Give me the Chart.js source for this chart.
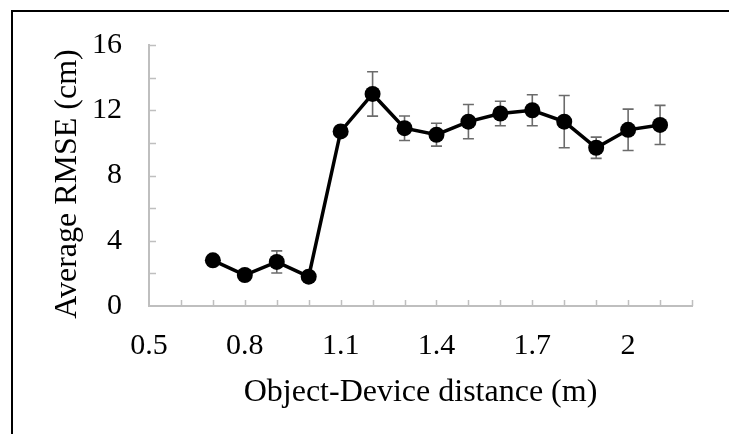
<!DOCTYPE html>
<html><head><meta charset="utf-8">
<script src="https://cdn.jsdelivr.net/npm/chart.js@4.4.0/dist/chart.umd.min.js"></script>
<style>html,body{margin:0;padding:0;background:#fff}#wrap{width:729px;height:434px;position:relative}</style>
</head><body><div id="wrap"><canvas id="c" width="729" height="434"></canvas></div>
<script>
const distances = [0.7, 0.8, 0.9, 1.0, 1.1, 1.2, 1.3, 1.4, 1.5, 1.6, 1.7, 1.8, 1.9, 2.0, 2.1];
const rmse = [2.8, 1.9, 2.7, 1.8, 10.7, 13.0, 10.9, 10.5, 11.3, 11.8, 12.0, 11.3, 9.7, 10.8, 11.1];
const rmseErr = [0.2, 0.2, 0.68, 0.2, 0.3, 1.36, 0.75, 0.7, 1.05, 0.75, 0.95, 1.6, 0.65, 1.27, 1.2];
const xTickValues = [0.5, 0.8, 1.1, 1.4, 1.7, 2.0];
const xTickLabels = ['0.5', '0.8', '1.1', '1.4', '1.7', '2'];
const yTickValues = [0, 4, 8, 12, 16];
const yTickLabels = ['0', '4', '8', '12', '16'];
const xTitle = 'Object-Device distance (m)';
const yTitle = 'Average RMSE (cm)';

const FONT = "'Liberation Serif', 'Times New Roman', serif";
const AXIS = '#bfbfbf';

function labelFor(vals, labs, v) {
  const i = vals.findIndex(t => Math.abs(t - v) < 1e-6);
  return i >= 0 ? labs[i] : '';
}

const errorBars = {
  id: 'errorBars',
  beforeDatasetsDraw(chart) {
    const {ctx, scales: {x, y}} = chart;
    ctx.save();
    ctx.strokeStyle = '#6b6b6b';
    ctx.lineWidth = 1.6;
    distances.forEach((d, i) => {
      const px = x.getPixelForValue(d);
      const y1 = y.getPixelForValue(rmse[i] + rmseErr[i]);
      const y2 = y.getPixelForValue(rmse[i] - rmseErr[i]);
      ctx.beginPath();
      ctx.moveTo(px, y1); ctx.lineTo(px, y2);
      ctx.moveTo(px - 5.5, y1); ctx.lineTo(px + 5.5, y1);
      ctx.moveTo(px - 5.5, y2); ctx.lineTo(px + 5.5, y2);
      ctx.stroke();
    });
    ctx.restore();
  }
};

const decor = {
  id: 'decor',
  beforeDatasetsDraw(chart) {
    const {ctx, scales: {x, y}, chartArea: a} = chart;
    ctx.save();
    ctx.strokeStyle = AXIS;
    ctx.lineWidth = 1.5;
    ctx.beginPath();
    x.ticks.forEach(t => {
      const px = Math.round(x.getPixelForValue(t.value)) + 0.5;
      if (Math.abs(t.value - x.min) < 1e-6) return;
      ctx.moveTo(px, a.bottom); ctx.lineTo(px, a.bottom - 6);
    });
    y.ticks.forEach(t => {
      const py = Math.round(y.getPixelForValue(t.value)) + 0.5;
      if (Math.abs(t.value - y.min) < 1e-6) return;
      ctx.moveTo(a.left, py); ctx.lineTo(a.left + 7, py);
    });
    ctx.stroke();
    ctx.restore();
  },
  afterDraw(chart) {
    const {ctx, chartArea: a} = chart;
    ctx.save();
    ctx.fillStyle = '#000';
    ctx.font = '32px ' + FONT;
    ctx.textAlign = 'center';
    ctx.textBaseline = 'alphabetic';
    ctx.fillText(xTitle, (a.left + a.right) / 2, 401);
    ctx.translate(76, 184);
    ctx.rotate(-Math.PI / 2);
    ctx.fillText(yTitle, 0, 0);
    ctx.restore();
    ctx.save();
    ctx.strokeStyle = '#000';
    ctx.lineWidth = 2;
    ctx.beginPath();
    ctx.moveTo(12, 434); ctx.lineTo(12, 11); ctx.lineTo(729, 11);
    ctx.stroke();
    ctx.restore();
  }
};

new Chart(document.getElementById('c'), {
  type: 'scatter',
  data: {
    datasets: [{
      data: distances.map((d, i) => ({x: d, y: rmse[i]})),
      showLine: true,
      borderColor: '#000',
      borderWidth: 3.5,
      pointBackgroundColor: '#000',
      pointBorderColor: '#000',
      pointRadius: 8,
      pointBorderWidth: 0,
      tension: 0
    }]
  },
  options: {
    responsive: false,
    animation: false,
    devicePixelRatio: 1,
    layout: {padding: {left: 0, right: 37, top: 42, bottom: 0}},
    plugins: {legend: {display: false}, tooltip: {enabled: false}},
    scales: {
      x: {
        type: 'linear', min: 0.5, max: 2.2,
        afterFit(s) { s.height = 128; },
        grid: {drawOnChartArea: false, drawTicks: false},
        border: {color: AXIS, width: 2},
        ticks: {
          stepSize: 0.1, autoSkip: false, maxRotation: 0, padding: 22,
          color: '#000', font: {family: FONT, size: 30},
          callback: v => labelFor(xTickValues, xTickLabels, v)
        }
      },
      y: {
        type: 'linear', min: 0, max: 16,
        afterFit(s) { s.width = 149; },
        grid: {drawOnChartArea: false, drawTicks: false},
        border: {color: AXIS, width: 2},
        ticks: {
          stepSize: 2, autoSkip: false, padding: 27,
          color: '#000', font: {family: FONT, size: 30},
          callback: v => labelFor(yTickValues, yTickLabels, v)
        }
      }
    }
  },
  plugins: [errorBars, decor]
});
</script></body></html>
